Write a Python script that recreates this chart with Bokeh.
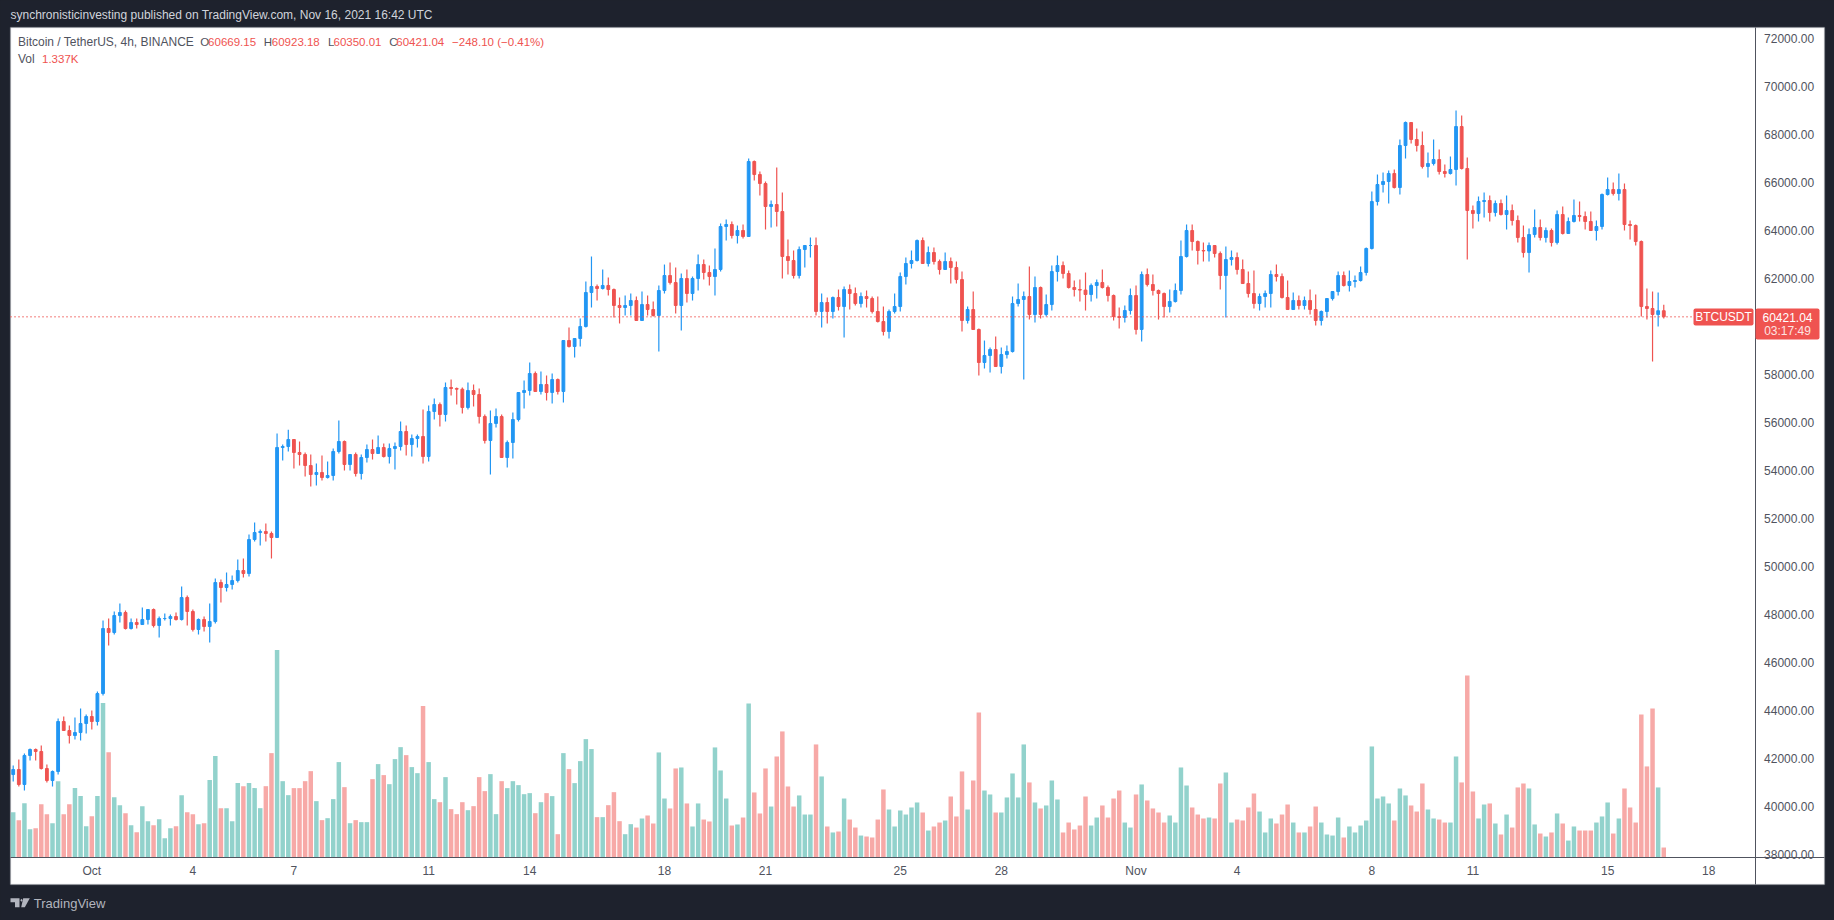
from bokeh.plotting import figure
from bokeh.models import (Range1d, LinearAxis, FixedTicker, NumeralTickFormatter, Label,
                          BoxAnnotation, PolyAnnotation, ColumnDataSource)
from bokeh.embed import file_html
from bokeh.resources import INLINE

# 4h candles of BTCUSDT; bar 0 = Oct 1 00:00, bars run -14 .. 280
first_open = 41345
closes = [
41554,40929,42137,42387,42304,41595,41095,41470,43554,43179,42970,43095,43470,43762,43554,44720,
47428,47262,47970,48095,47428,47678,47595,47803,48220,47553,47845,47845,47928,47803,48720,48137,47387,47803,47512,47720,
49345,49137,49262,49428,49845,49720,51137,51428,51470,51387,51220,54971,55012,55304,
54762,54679,54220,53845,53929,53720,53804,54804,55221,54262,54679,53887,54554,54887,54721,54970,54595,54929,55012,55637,
55095,55345,55429,54595,56470,56762,56345,57471,57429,57400,56637,57346,57179,56262,55262,55971,56262,54554,55179,56137,
57262,57346,58054,57304,57596,57262,57804,57304,59429,59179,59512,60012,61429,61679,61596,61721,61554,60888,60804,
60887,61095,60262,60928,60720,60470,61512,62137,61845,60887,62012,61387,62012,62595,62262,62095,62387,64179,64262,63803,
64012,63762,66887,66345,65970,65012,65095,64804,62929,62762,62137,63220,63387,63387,60637,61012,60637,61220,60845,61553,
61387,60970,61262,61178,60637,60220,59803,60637,60845,62095,62637,62762,63595,62637,63095,62720,62387,62720,62470,61970,
60262,60720,59887,58512,58803,59053,58345,58845,58970,60970,61137,61262,60512,61637,60512,60928,62303,62553,62220,61637,
61553,61530,61345,61720,61845,61637,61303,60428,60387,60678,61303,59887,62178,61762,61512,61387,60845,61053,61512,62928,
64012,63553,63179,63160,63387,63053,62137,62803,62887,62387,61803,61387,60970,61262,61387,62178,62095,61220,60720,61095,
60887,61095,60720,60262,60637,61178,61470,62137,61720,61887,61928,62262,63262,65220,65929,66054,66387,65804,67554,68512,
67804,67554,66679,66804,66970,66470,66387,66554,68345,66595,64845,64720,65220,65262,64762,65137,64679,64845,64429,63720,
63095,63845,64137,63720,64012,63512,64679,63887,64387,64637,64595,64387,64012,64179,65512,65720,65554,65720,64262,64220,
63553,60845,60762,60512,60669.15,60421.04]
highs = [
41720,41970,42220,42429,42429,42554,41762,41512,43679,43762,43387,43720,44095,43845,44012,44804,
47762,47845,48137,48470,48178,47845,47845,48303,48220,48262,47928,48053,48012,48095,49178,48803,48220,47845,47928,48470,
49512,49470,49762,49637,50303,50345,51345,51845,51553,51803,51470,55554,55095,55708,
55304,55220,54762,54679,54304,54637,54387,54929,56096,55262,54679,54762,54679,55095,55304,55470,55137,55137,55179,56054,
55887,55512,55512,56554,56720,57012,56846,57679,57804,57471,57471,57679,57596,57429,56346,56512,56596,56346,55262,56429,
57262,57762,58512,58137,58137,57971,58054,57846,59429,59971,59512,60346,61888,62929,61763,62388,62054,61596,61221,
61303,61387,61262,61470,61303,61053,61720,62595,62678,62470,62220,62387,62095,63012,62803,62553,63262,64304,64470,64387,
64220,64262,67012,66929,66470,66054,65262,66637,65595,63637,63179,63345,63387,63720,63720,61387,61220,61262,61553,61678,
61762,61637,61428,61512,61262,61262,60845,60720,61387,62262,62887,63179,63637,63720,63345,63303,62803,63095,62887,62720,
62303,60845,61470,59928,59428,59137,59595,59137,59220,61262,61803,61470,62512,62095,61678,61345,62553,62970,62720,62345,
61928,61970,62262,61803,61970,62387,61720,61345,60803,60887,61595,61720,62303,62428,62178,61553,61428,61553,61803,63595,
64262,64262,63595,63512,63512,63387,63137,63345,63179,63095,62803,62303,62345,61387,61512,62345,62595,62220,61928,61428,
61303,61262,61553,61345,60678,61178,61470,62303,62303,62345,62137,62512,63303,65637,66345,66429,66512,66554,67804,68554,
68512,68262,68137,67262,67804,67387,66762,67095,69012,68804,67054,65054,65429,65595,65470,65262,65304,65470,65095,64637,
64220,64095,64887,64470,64137,64095,64845,65012,64554,65304,65220,64804,64804,64429,65554,66220,66012,66387,65970,64429,
64262,63595,61595,61470,61429,60923.18]
lows = [
41054,40845,40679,41929,41929,41554,41012,40845,41345,43179,42637,42804,42762,43054,43220,43387,
44637,46720,47178,47678,47387,47387,47428,47595,47595,47470,47053,47762,47553,47762,47762,47553,47303,47178,47303,46845,
47637,48512,48970,49053,49345,49553,49595,51053,50887,51053,50345,51220,54429,54804,
54095,54220,53762,53345,53387,53595,53679,53595,54721,54012,54012,53762,53637,54345,54470,54721,54554,54304,54054,54845,
54637,54595,54970,54304,54387,56137,55845,56054,57137,56762,56387,56554,56679,55971,55137,53845,55804,54554,54137,54512,
56054,56596,57137,57304,57179,56929,56804,57179,56846,59137,58721,59179,59971,60804,61096,61554,61304,60388,60138,
60470,60470,60262,60262,60470,60428,58970,61387,61762,60553,59845,61012,61095,61512,61970,61720,61303,62303,63595,63679,
63470,63679,63762,66095,65470,64054,64137,64179,62012,62178,62012,62012,62470,62887,60470,59970,60137,60345,60678,59553,
60720,60887,60803,60803,60553,60178,59637,59512,60553,60637,61762,62428,62720,62637,62512,62595,62178,62387,61803,61803,
59803,60137,59887,57970,58262,58095,58345,58053,58678,58928,60845,57803,60303,60178,60345,60428,60678,61887,62012,61595,
61262,61053,60678,61053,61178,61595,61053,60262,59928,60178,60512,59678,59387,61678,61303,60303,60387,60595,61012,61345,
62887,63179,62595,62720,62720,62887,61553,60387,62553,62178,61803,61220,60762,60678,60803,60803,61887,61178,60720,60720,
60720,60720,60512,60053,60053,60387,61095,61303,61678,61470,61637,61887,62137,63220,65054,65595,65137,65762,65512,67012,
67637,67304,66595,66220,66720,66345,66220,66345,65887,66554,62803,64095,64387,64554,64387,64595,64637,64054,64220,63512,
62887,62262,63720,63595,63512,63345,63429,63845,63887,64345,64387,64054,64012,63595,64054,65470,65470,65262,64012,63637,
63387,60428,60303,58553,60012,60350.01]
volumes_k = [
6.07,5.00,7.27,3.79,3.92,7.14,5.80,4.59,10.21,5.80,7.14,9.28,8.21,4.19,5.53,8.21,
20.65,14.09,8.07,7.00,5.93,4.33,3.39,6.87,4.86,4.33,5.13,2.59,3.92,4.19,8.34,6.07,5.80,4.46,4.59,10.35,
13.56,6.60,6.60,4.86,9.95,9.54,9.95,9.28,6.60,9.54,13.96,27.74,10.21,8.34,
9.28,9.28,10.21,11.55,7.54,5.00,5.26,7.81,12.76,9.41,4.59,5.00,4.73,4.73,10.48,12.49,11.02,9.81,13.16,14.76,
13.69,12.09,11.28,20.25,12.76,7.81,7.40,10.75,6.47,5.80,7.40,6.33,6.87,10.75,8.88,11.15,5.80,10.21,9.28,10.21,
9.68,8.47,8.61,5.93,7.40,8.61,8.21,3.12,13.96,11.82,9.95,12.89,15.83,14.50,5.40,5.40,7.00,8.74,4.86,
3.12,4.46,4.01,5.22,5.62,4.55,14.05,7.89,6.56,11.91,12.04,7.23,4.15,7.23,5.08,4.82,14.72,11.64,7.89,4.28,
4.42,5.35,20.61,8.70,5.89,11.91,6.82,13.51,16.86,9.50,6.82,8.30,5.75,5.75,15.12,10.84,4.15,3.35,3.48,7.89,
5.08,4.01,2.94,2.81,2.68,5.08,9.10,6.42,4.15,6.29,5.75,6.69,7.36,6.02,3.61,4.15,4.68,4.95,8.16,5.49,
11.51,6.42,10.30,19.40,8.96,8.43,6.02,6.02,8.03,11.24,8.03,15.12,10.04,7.36,6.56,6.96,10.30,7.76,3.35,4.68,
3.75,4.28,8.16,4.28,5.35,6.96,5.35,7.89,8.96,4.68,4.01,8.43,9.77,7.63,6.56,6.02,4.68,5.62,4.68,12.04,
9.63,6.69,5.75,5.22,5.35,5.22,9.90,11.37,4.68,5.08,4.95,6.69,8.56,6.15,3.35,5.22,4.55,5.75,7.09,4.68,
3.35,3.35,4.15,6.82,4.68,3.08,2.94,5.35,2.68,4.15,3.35,4.28,4.95,14.85,7.89,8.16,7.23,4.95,9.23,8.30,
6.96,6.15,9.90,6.42,5.22,5.08,4.68,4.68,13.51,10.04,24.35,8.83,5.22,7.09,7.23,4.55,3.08,5.75,4.01,9.37,
9.90,9.23,4.42,3.21,2.81,3.35,5.89,4.55,2.27,4.15,3.61,3.61,3.61,4.68,5.49,7.36,3.21,5.22,9.23,6.69,
4.68,19.13,12.18,19.94,9.37,1.337]
tick_bars = [0,18,36,60,78,102,120,144,162,186,204,228,246,270,288]
tick_labels = ["Oct","4","7","11","14","18","21","25","28","Nov","4","8","11","15","18"]
price_ticks = list(range(38000, 72001, 2000))
last_price = 60421.04

bars = list(range(-14, 281))
assert len(closes) == len(highs) == len(lows) == len(volumes_k) == len(bars)
opens = [first_open] + closes[:-1]

UP, DOWN = "#2196f3", "#ef5350"
VUP, VDOWN = "#92d2cc", "#f7a9a7"
DARK = "#1e222d"
GREY = "#50535e"
LIGHT = "#d1d4dc"
FONT = "Liberation Sans"

colors = [UP if c >= o else DOWN for o, c in zip(opens, closes)]
vcolors = [VUP if c >= o else VDOWN for o, c in zip(opens, closes)]
src = ColumnDataSource(dict(x=bars, o=opens, c=closes, h=highs, l=lows, v=volumes_k, col=colors, vcol=vcolors))

# the frame fills the page; the axes are pinned inside it with fixed_location
p = figure(width=1834, height=920, output_backend="svg", toolbar_location=None,
           x_range=Range1d(-16.263, 310.41), y_range=Range1d(35262.5, 73595.8),
           x_axis_location=None, y_axis_location=None,
           min_border=0, background_fill_color=DARK, border_fill_color=DARK, outline_line_color=None)
p.grid.visible = False
p.extra_y_ranges = {"vol": Range1d(-8.42, 114.59)}

sx = lambda px: px
sy = lambda py: 920 - py

def box(l, r, t, b, color, level="underlay", radius=0, line_color=None, line_width=1):
    return BoxAnnotation(left=sx(l), right=sx(r), top=sy(t), bottom=sy(b),
                         left_units="screen", right_units="screen", top_units="screen", bottom_units="screen",
                         fill_color=color, fill_alpha=1, line_color=line_color, line_width=line_width,
                         level=level, border_radius=radius)

p.add_layout(box(10, 1824, 27, 884, "white", line_color="#a3a6af", line_width=1.5))

p.vbar(x="x", top="v", bottom=0, width=0.8, fill_color="vcol", line_color=None, source=src, y_range_name="vol")
p.segment(x0="x", x1="x", y0="l", y1="h", line_color="col", line_width=1.2, source=src)
p.vbar(x="x", top="o", bottom="c", width=0.5, fill_color="col", line_color="col", line_width=1, source=src)

# last price line, from the left edge of the pane to the tag
p.line(x=[-14.48, 285], y=[last_price, last_price], line_color=DOWN, line_width=1.5, line_dash="1 3")

ax = LinearAxis(fixed_location=37887.5, bounds=(-14.48, 308.6))
ax.ticker = FixedTicker(ticks=tick_bars)
ax.major_label_overrides = {b: t for b, t in zip(tick_bars, tick_labels)}
ax.major_tick_line_color = None
ax.minor_tick_line_color = None
ax.major_tick_out = 0
ax.major_tick_in = 0
ax.axis_line_color = GREY
ax.major_label_text_color = GREY
ax.major_label_text_font = FONT
ax.major_label_text_font_size = "12px"
ax.major_label_standoff = 7
p.add_layout(ax, "below")

ay = LinearAxis(fixed_location=296.26, bounds=(36762, 72470.8))
ay.ticker = FixedTicker(ticks=price_ticks)
ay.formatter = NumeralTickFormatter(format="0.00")
ay.major_tick_line_color = None
ay.minor_tick_line_color = None
ay.major_tick_out = 0
ay.major_tick_in = 0
ay.axis_line_color = GREY
ay.major_label_text_color = GREY
ay.major_label_text_font = FONT
ay.major_label_text_font_size = "12px"
ay.major_label_standoff = 9
p.add_layout(ay, "right")

# price tags
p.add_layout(box(1693, 1753, 308, 325, DOWN, level="overlay", radius=2))
p.add_layout(box(1755, 1819, 308, 339, DOWN, level="overlay", radius=2))

def txt(s, x, y, color=GREY, size="11.5px", align="left", style="normal"):
    p.add_layout(Label(x=sx(x), y=sy(y), x_units="screen", y_units="screen", text=s, text_color=color,
                       text_font=FONT, text_font_size=size, text_align=align, text_baseline="middle",
                       text_font_style=style, level="overlay"))

txt("synchronisticinvesting published on TradingView.com, Nov 16, 2021 16:42 UTC", 10, 14, color=LIGHT, size="12px")
txt("Bitcoin / TetherUS, 4h, BINANCE", 17.5, 41, size="12px")
for s, x, col in [("O", 199.7, GREY), ("60669.15", 207.6, DOWN), ("H", 263.3, GREY), ("60923.18", 271.3, DOWN),
                  ("L", 327.4, GREY), ("60350.01", 333, DOWN), ("C", 388.7, GREY), ("60421.04", 395.8, DOWN),
                  ("\u2212248.10 (\u22120.41%)", 451.6, DOWN)]:
    txt(s, x, 41, color=col)
txt("Vol", 17.5, 58, size="12px")
txt("1.337K", 41.5, 58, color=DOWN)
txt("BTCUSDT", 1723, 316.5, color="white", align="center", size="12px")
txt("60421.04", 1787, 316.5, color="white", align="center", size="12px")
txt("03:17:49", 1787, 330.5, color="#fde3e2", align="center", size="12px")
txt("TradingView", 33.3, 902.5, color="#b2b5be", size="13px")

# TradingView logo
for xs_, ys_ in [([10, 19, 19, 14.5, 14.5, 10], [897.7, 897.7, 906.7, 906.7, 901.7, 901.7]),
                 ([19.8, 21, 22.2, 21], [899.7, 898.2, 899.7, 901.2]),
                 ([22.7, 29.3, 24.3, 20.7], [897.7, 897.7, 906.7, 906.7])]:
    p.add_layout(PolyAnnotation(xs=[sx(v) for v in xs_], ys=[sy(v) for v in ys_], xs_units="screen", ys_units="screen",
                                fill_color="#b2b5be", fill_alpha=1, line_color=None, level="overlay"))

html = file_html(p, INLINE)
html = html.replace("<head>", "<head><style>html,body{background:#1e222d}</style>", 1)
open("out.html", "w").write(html)
